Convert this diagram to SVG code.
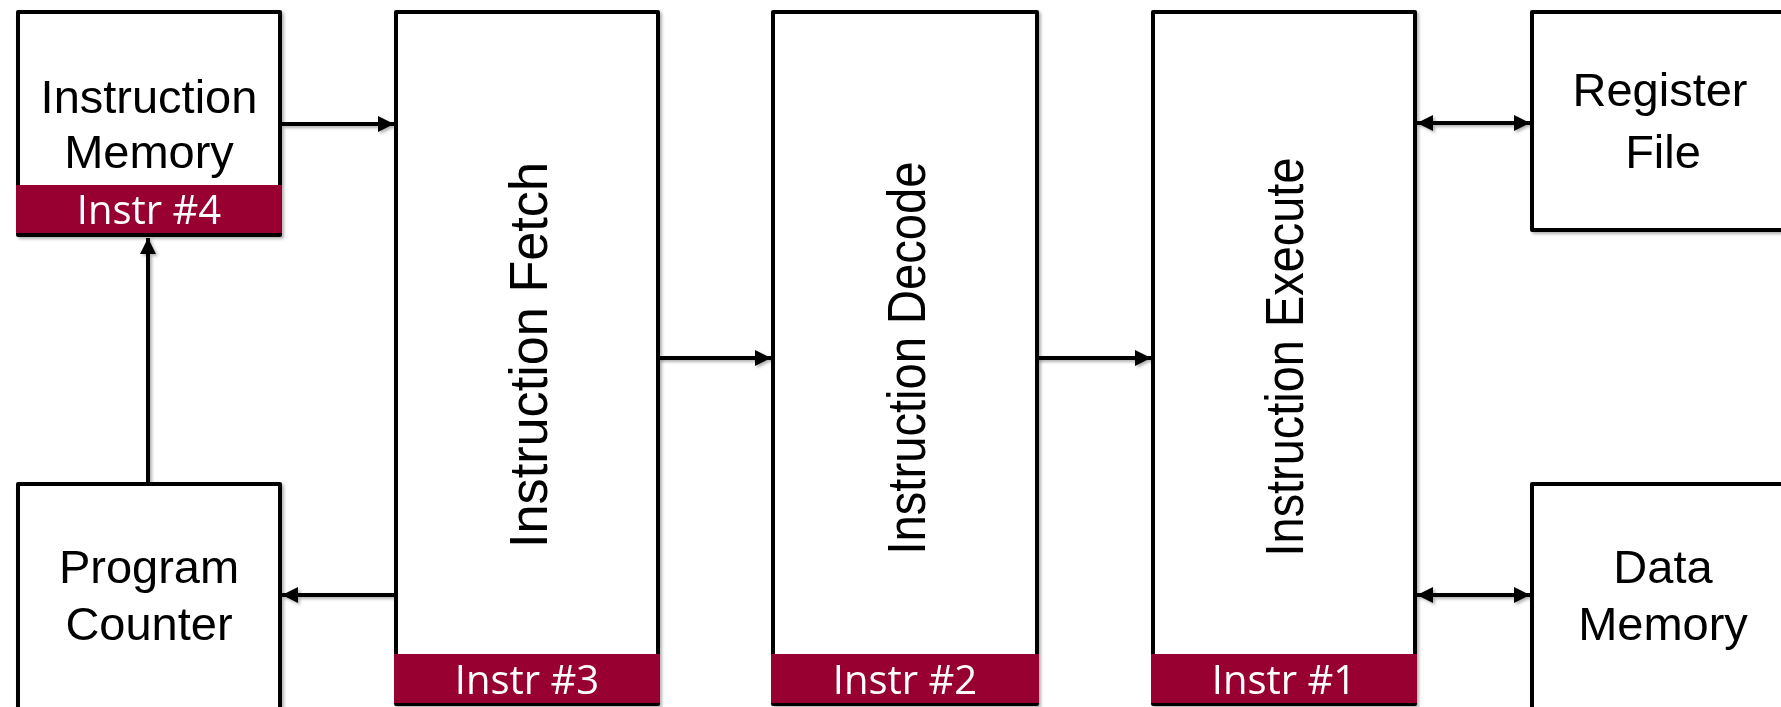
<svg xmlns="http://www.w3.org/2000/svg" width="1781" height="707" viewBox="0 0 1781 707">
  <style>
    .box { fill: #ffffff; stroke: #000000; stroke-width: 4; stroke-linejoin: round; }
    .band { fill: #990033; }
    .lbl { font-family: "Liberation Sans", Arial, sans-serif; font-size: 47px; fill: #000000; text-anchor: middle; }
    .vlbl { font-family: "Liberation Sans", Arial, sans-serif; font-size: 53px; fill: #000000; text-anchor: middle; }
    .tag { font-family: "Open Sans", "Liberation Sans", sans-serif; font-size: 40px; fill: #ffffff; text-anchor: middle; }
    .wire { fill: none; stroke: #000000; stroke-width: 4; }
  </style>
  <defs>
    <filter id="shadow" x="-10%" y="-10%" width="120%" height="120%">
      <feDropShadow dx="2" dy="2" stdDeviation="1.5" flood-color="#000000" flood-opacity="0.3"/>
    </filter>
    <marker id="head" viewBox="0 0 10 10" refX="10" refY="5" markerWidth="4" markerHeight="4" markerUnits="strokeWidth" orient="auto-start-reverse">
      <path d="M0,0 L10,5 L0,10 z" fill="#000000"/>
    </marker>
  </defs>
  <rect width="1781" height="707" fill="#ffffff"/>

  <!-- connectors -->
  <g id="connectors" filter="url(#shadow)">
    <line class="wire" x1="282" y1="124" x2="394" y2="124" marker-end="url(#head)"/>
    <line class="wire" x1="148" y1="484" x2="148" y2="238" marker-end="url(#head)"/>
    <line class="wire" x1="396" y1="595" x2="282" y2="595" marker-end="url(#head)"/>
    <line class="wire" x1="658" y1="358" x2="771" y2="358" marker-end="url(#head)"/>
    <line class="wire" x1="1037" y1="358" x2="1151" y2="358" marker-end="url(#head)"/>
    <line class="wire" x1="1417" y1="123" x2="1530" y2="123" marker-start="url(#head)" marker-end="url(#head)"/>
    <line class="wire" x1="1417" y1="595" x2="1530" y2="595" marker-start="url(#head)" marker-end="url(#head)"/>
  </g>

  <!-- instruction memory -->
  <g id="instruction-memory" filter="url(#shadow)">
    <rect class="box" x="18" y="12" width="262" height="223"/>
    <rect class="band" x="16" y="185" width="266" height="48"/>
    <text class="lbl" x="149" y="113">Instruction</text>
    <text class="lbl" x="149" y="168">Memory</text>
    <text class="tag" x="149" y="224">Instr #4</text>
  </g>

  <!-- program counter -->
  <g id="program-counter" filter="url(#shadow)">
    <rect class="box" x="18" y="484" width="262" height="240"/>
    <text class="lbl" x="149" y="583">Program</text>
    <text class="lbl" x="149" y="640">Counter</text>
  </g>

  <!-- fetch stage -->
  <g id="instruction-fetch" filter="url(#shadow)">
    <rect class="box" x="396" y="12" width="262" height="692"/>
    <rect class="band" x="394" y="654" width="266" height="49"/>
    <text class="vlbl" transform="translate(547,355) rotate(-90)" textLength="386" lengthAdjust="spacingAndGlyphs">Instruction Fetch</text>
    <text class="tag" x="527" y="694">Instr #3</text>
  </g>

  <!-- decode stage -->
  <g id="instruction-decode" filter="url(#shadow)">
    <rect class="box" x="773" y="12" width="264" height="692"/>
    <rect class="band" x="771" y="654" width="268" height="49"/>
    <text class="vlbl" transform="translate(925,358) rotate(-90)" textLength="393" lengthAdjust="spacingAndGlyphs">Instruction Decode</text>
    <text class="tag" x="905" y="694">Instr #2</text>
  </g>

  <!-- execute stage -->
  <g id="instruction-execute" filter="url(#shadow)">
    <rect class="box" x="1153" y="12" width="262" height="692"/>
    <rect class="band" x="1151" y="654" width="266" height="49"/>
    <text class="vlbl" transform="translate(1303,357) rotate(-90)" textLength="399" lengthAdjust="spacingAndGlyphs">Instruction Execute</text>
    <text class="tag" x="1284" y="694">Instr #1</text>
  </g>

  <!-- register file -->
  <g id="register-file" filter="url(#shadow)">
    <rect class="box" x="1532" y="12" width="300" height="218"/>
    <text class="lbl" x="1660" y="106">Register</text>
    <text class="lbl" x="1663" y="168">File</text>
  </g>

  <!-- data memory -->
  <g id="data-memory" filter="url(#shadow)">
    <rect class="box" x="1532" y="484" width="300" height="240"/>
    <text class="lbl" x="1663" y="583">Data</text>
    <text class="lbl" x="1663" y="640">Memory</text>
  </g>
</svg>
